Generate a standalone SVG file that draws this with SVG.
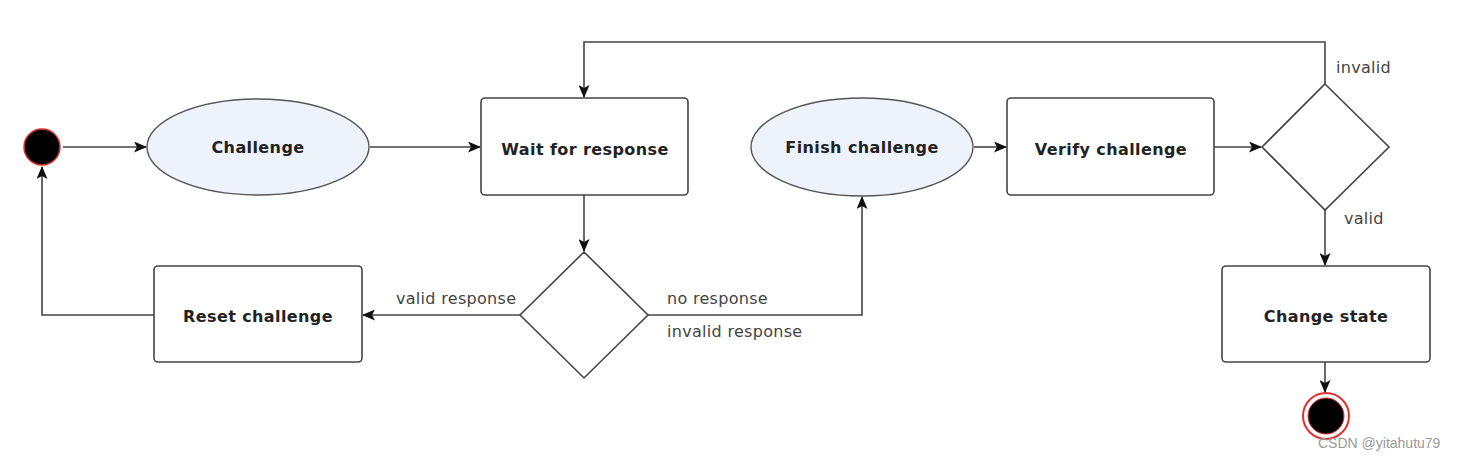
<svg xmlns="http://www.w3.org/2000/svg" width="1468" height="461" viewBox="0 0 1468 461">
<defs>
<style>
.node{fill:#fff;stroke:#444;stroke-width:1.6}
.ell{fill:#eef3fb;stroke:#555;stroke-width:1.4}
.lbl{font-family:"DejaVu Sans",Verdana,sans-serif;font-weight:bold;font-size:16px;letter-spacing:0.4px;fill:#222;text-anchor:middle}
.edge{font-family:"DejaVu Sans",Verdana,sans-serif;font-size:16px;letter-spacing:0.3px;fill:#444}
.conn{fill:none;stroke:#444;stroke-width:1.6}
</style>
<marker id="arr" markerWidth="13" markerHeight="11" refX="12" refY="5.5" orient="auto" markerUnits="userSpaceOnUse">
<path d="M0,0 L13,5.5 L0,11 L3,5.5 Z" fill="#111"/>
</marker>
</defs>
<rect width="1468" height="461" fill="#fff"/>
<g id="connectors">
<path class="conn" d="M63,147 H146" marker-end="url(#arr)"/>
<path class="conn" d="M370,147 H480" marker-end="url(#arr)"/>
<path class="conn" d="M584,195 V251" marker-end="url(#arr)"/>
<path class="conn" d="M520,315 H363" marker-end="url(#arr)"/>
<path class="conn" d="M154,315 H42 V167" marker-end="url(#arr)"/>
<path class="conn" d="M648,315 H862 V197" marker-end="url(#arr)"/>
<path class="conn" d="M974,147 H1006" marker-end="url(#arr)"/>
<path class="conn" d="M1214,147 H1261" marker-end="url(#arr)"/>
<path class="conn" d="M1325,84 V42 H584 V97" marker-end="url(#arr)"/>
<path class="conn" d="M1325,210 V265" marker-end="url(#arr)"/>
<path class="conn" d="M1325,362 V392" marker-end="url(#arr)"/>
<text class="edge" x="396" y="304">valid response</text>
<text class="edge" x="667" y="304">no response</text>
<text class="edge" x="667" y="337">invalid response</text>
<text class="edge" x="1336" y="73">invalid</text>
<text class="edge" x="1344" y="224">valid</text>
</g>
<g id="start">
<circle cx="42" cy="147" r="18" fill="#000" stroke="#e03030" stroke-width="1.5"/>
</g>
<g id="challenge">
<ellipse class="ell" cx="258" cy="147" rx="111" ry="48"/>
<text class="lbl" x="258" y="153">Challenge</text>
</g>
<g id="wait">
<rect class="node" x="481" y="98" width="207" height="97" rx="4"/>
<text class="lbl" x="585" y="155">Wait for response</text>
</g>
<g id="decision1">
<polygon class="node" points="584,252 648,315 584,378 520,315"/>
</g>
<g id="reset">
<rect class="node" x="154" y="266" width="208" height="96" rx="4"/>
<text class="lbl" x="258" y="322">Reset challenge</text>
</g>
<g id="finish">
<ellipse class="ell" cx="862" cy="147" rx="111" ry="49"/>
<text class="lbl" x="862" y="153">Finish challenge</text>
</g>
<g id="verify">
<rect class="node" x="1007" y="98" width="207" height="97" rx="4"/>
<text class="lbl" x="1111" y="155">Verify challenge</text>
</g>
<g id="decision2">
<polygon class="node" points="1325,84 1389,147 1325,210 1262,147"/>
</g>
<g id="change">
<rect class="node" x="1222" y="266" width="208" height="96" rx="4"/>
<text class="lbl" x="1326" y="322">Change state</text>
</g>
<g id="end">
<circle cx="1326" cy="416" r="23" fill="#fff" stroke="#e03030" stroke-width="2"/>
<circle cx="1326" cy="416" r="18" fill="#000" stroke="#e03030" stroke-width="1"/>
</g>
<text x="1318" y="448" font-family="'Liberation Sans',Arial,sans-serif" font-size="14" fill="#999">CSDN @yitahutu79</text>
</svg>
